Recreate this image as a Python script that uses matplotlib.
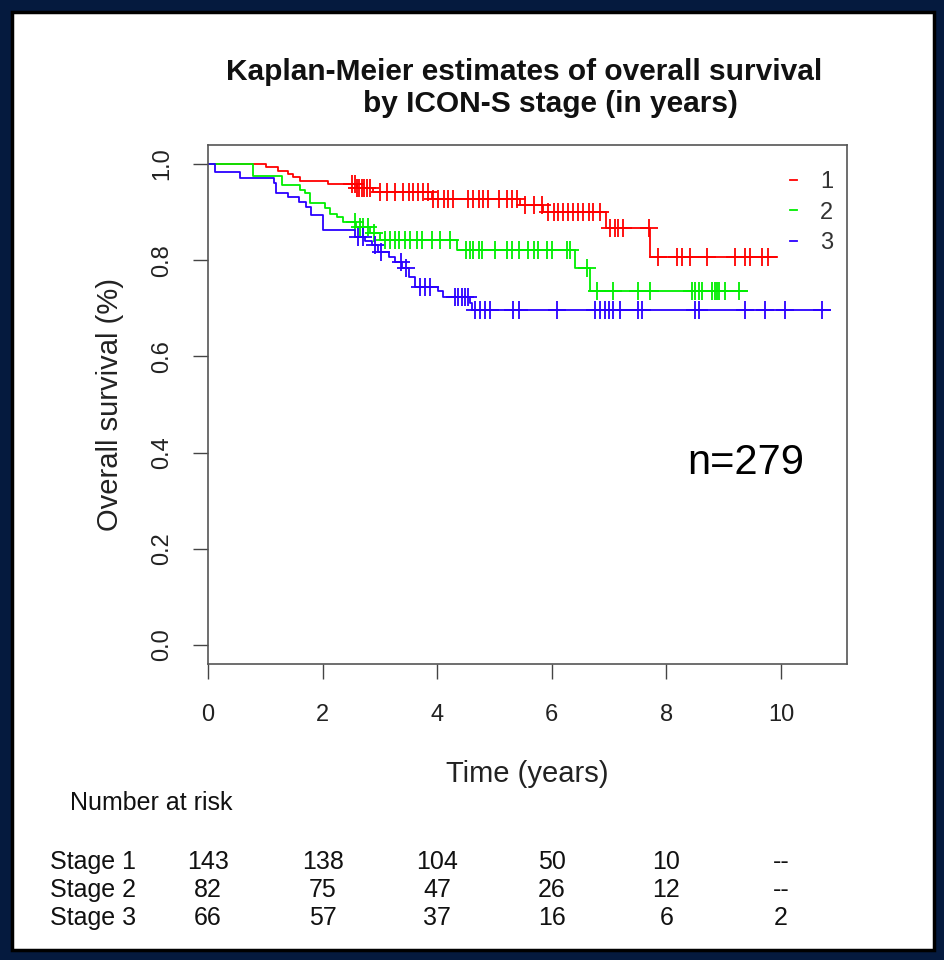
import numpy as np
import matplotlib.pyplot as plt
import matplotlib.transforms as mtransforms
from matplotlib.patches import Rectangle

plt.rcParams['font.family'] = ['Liberation Sans', 'DejaVu Sans']

# Kaplan-Meier step curves: time (years) and survival after each step
s1_times = [0, 1.02, 1.23, 1.40, 1.49, 1.61, 2.10, 2.60, 2.88, 3.90, 5.45, 5.85, 6.95, 7.71, 9.92]
s1_surv = [1.0, 0.993, 0.986, 0.979, 0.972, 0.965, 0.958, 0.951, 0.942, 0.928, 0.915, 0.900, 0.867, 0.807, 0.807]
s1_cens = [2.52, 2.56, 2.60, 2.64, 2.68, 2.72, 2.77, 2.82, 3.0, 3.12, 3.26, 3.41, 3.50, 3.58, 3.67,
           3.76, 3.84, 3.93, 4.02, 4.11, 4.19, 4.28, 4.54, 4.63, 4.72, 4.80, 4.89, 5.07, 5.21, 5.30,
           5.39, 5.53, 5.68, 5.82, 5.94, 6.03, 6.11, 6.20, 6.29, 6.37, 6.46, 6.55, 6.64, 6.72, 6.84,
           7.02, 7.10, 7.16, 7.25, 7.69, 7.86, 8.18, 8.27, 8.41, 8.70, 9.20, 9.37, 9.46, 9.66, 9.78]

s2_times = [0, 0.79, 1.29, 1.61, 1.70, 1.78, 2.04, 2.13, 2.25, 2.36, 2.59, 2.83, 3.0, 4.34, 6.40, 6.67, 9.40]
s2_surv = [1.0, 0.975, 0.956, 0.946, 0.939, 0.918, 0.908, 0.897, 0.890, 0.880, 0.870, 0.856, 0.842,
           0.821, 0.783, 0.735, 0.735]
s2_cens = [2.56, 2.65, 2.71, 2.79, 2.90, 3.08, 3.17, 3.26, 3.34, 3.44, 3.52, 3.64, 3.73, 3.90, 4.05,
           4.22, 4.51, 4.57, 4.63, 4.72, 4.78, 5.01, 5.21, 5.30, 5.42, 5.59, 5.68, 5.76, 5.91, 6.00,
           6.26, 6.32, 6.61, 6.78, 7.07, 7.51, 7.71, 8.44, 8.50, 8.56, 8.62, 8.79, 8.85, 8.88, 8.91,
           9.02, 9.26]

s3_times = [0, 0.12, 0.55, 1.15, 1.18, 1.39, 1.59, 1.71, 1.80, 2.0, 2.56, 2.74, 2.86, 2.97, 3.15,
            3.26, 3.38, 3.50, 3.62, 4.02, 4.10, 4.57, 4.60, 10.86]
s3_surv = [1.0, 0.984, 0.970, 0.960, 0.939, 0.932, 0.922, 0.911, 0.894, 0.863, 0.849, 0.839, 0.832,
           0.818, 0.807, 0.797, 0.783, 0.766, 0.745, 0.735, 0.724, 0.710, 0.696, 0.696]
s3_cens = [2.62, 2.70, 2.91, 3.02, 3.37, 3.45, 3.70, 3.79, 3.87, 4.31, 4.37, 4.43, 4.49, 4.54, 4.66,
           4.75, 4.83, 4.92, 5.33, 5.42, 6.09, 6.75, 6.84, 6.92, 6.99, 7.07, 7.19, 7.51, 7.57, 8.50,
           8.56, 9.37, 9.72, 10.07, 10.71]

stage_labels = ['1', '2', '3']
colors = ['#ff0000', '#00ee00', '#2a00ff']

# number at risk table
risk_times = [0, 2, 4, 6, 8, 10]
risk_rows = ['Stage 1', 'Stage 2', 'Stage 3']
risk_values = [['143', '138', '104', '50', '10', '--'],
               ['82', '75', '47', '26', '12', '--'],
               ['66', '57', '37', '16', '6', '2']]

W, H = 944, 960
fig = plt.figure(figsize=(W / 100, H / 100), dpi=100, facecolor='#051a3e')
panel = Rectangle((12 / W, 1 - 950 / H), 922 / W, 938 / H, transform=fig.transFigure,
                  facecolor='white', edgecolor='black', linewidth=2.5, zorder=-5)
fig.patches.append(panel)

ax = fig.add_axes([208 / W, 1 - 664 / H, 639 / W, 519 / H])
ax.set_facecolor('white')

curves = [(s1_times, s1_surv, s1_cens), (s2_times, s2_surv, s2_cens), (s3_times, s3_surv, s3_cens)]
for (t, s, c), col, lab in zip(curves, colors, stage_labels):
    t = np.array(t)
    s = np.array(s)
    ax.step(t, s, where='post', color=col, lw=1.3, label=lab)
    idx = np.searchsorted(t, c, side='right') - 1
    ax.plot(c, s[idx], ls='none', marker='+', ms=13, mew=1.3, color=col)

ax.set_xlim(0, 11.15)
ax.set_ylim(-0.0395, 1.0395)
ax.set_xticks(risk_times)
ax.set_yticks([0, 0.2, 0.4, 0.6, 0.8, 1.0])
ax.set_yticklabels(['0.0', '0.2', '0.4', '0.6', '0.8', '1.0'], rotation=90, va='center')
ax.tick_params(axis='both', labelsize=17, length=11, width=1.0, color='#444', labelcolor='#222')
ax.tick_params(axis='x', pad=18)
ax.tick_params(axis='y', pad=14)
for sp in ax.spines.values():
    sp.set_color('#555')
    sp.set_linewidth(1.2)

ax.set_xlabel('Time (years)', fontsize=21, color='#222', labelpad=24)
ax.set_ylabel('Overall survival (%)', fontsize=21, color='#222', labelpad=20)

leg = ax.legend(loc='upper right', bbox_to_anchor=(1.012, 0.99), frameon=False, fontsize=17,
                handlelength=0.3, handletextpad=1.0, labelspacing=0.35)
for txt in leg.get_texts():
    txt.set_color('#333')

fig.text(746 / W, 1 - 463 / H, 'n=279', fontsize=30, ha='center', va='center', color='black')

fig.text(524 / W, 1 - 72 / H, 'Kaplan-Meier estimates of overall survival', fontsize=21.5,
         fontweight='bold', ha='center', va='center', color='#111')
fig.text(550 / W, 1 - 104 / H, 'by ICON-S stage (in years)', fontsize=21.5,
         fontweight='bold', ha='center', va='center', color='#111')

# number at risk
fs_tab = 18
fig.text(70 / W, 1 - 803 / H, 'Number at risk', fontsize=fs_tab, ha='left', va='center', color='#111')
tr = mtransforms.blended_transform_factory(ax.transData, fig.transFigure)
row_y = [862, 890, 918]
for name, vals, y in zip(risk_rows, risk_values, row_y):
    fig.text(50 / W, 1 - y / H, name, fontsize=fs_tab, ha='left', va='center', color='#111')
    for xt, v in zip(risk_times, vals):
        ax.text(xt, 1 - y / H, v, fontsize=fs_tab, ha='center', va='center',
                color='#111', transform=tr, clip_on=False)

fig.savefig('out.png', dpi=100, facecolor=fig.get_facecolor())
